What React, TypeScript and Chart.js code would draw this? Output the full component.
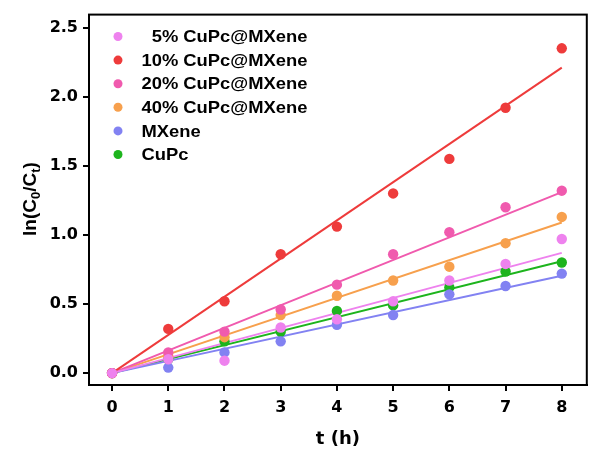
import React, { useEffect, useRef } from "react";
import { Chart, registerables } from "chart.js";

Chart.register(...registerables);

const times = [0, 1, 2, 3, 4, 5, 6, 7, 8];
const seriesLabels = ["5% CuPc@MXene", "10% CuPc@MXene", "20% CuPc@MXene", "40% CuPc@MXene", "MXene", "CuPc"];
const seriesColors = ["#EE82EE", "#EE3B3B", "#F05AAE", "#F7A04D", "#8282F2", "#1DB41D"];
const pct5 = [0, 0.1, 0.09, 0.33, 0.39, 0.52, 0.67, 0.79, 0.97];
const pct10 = [0, 0.32, 0.52, 0.86, 1.06, 1.3, 1.55, 1.92, 2.35];
const pct20 = [0, 0.15, 0.3, 0.46, 0.64, 0.86, 1.02, 1.2, 1.32];
const pct40 = [0, 0.12, 0.26, 0.42, 0.56, 0.67, 0.77, 0.94, 1.13];
const mxene = [0, 0.04, 0.15, 0.23, 0.35, 0.42, 0.57, 0.63, 0.72];
const cupc = [0, 0.1, 0.23, 0.3, 0.45, 0.49, 0.62, 0.735, 0.8];
// linear fit lines through origin: value at t = 0 and t = 8
const fitStartT = 0;
const fitEndT = 8;
const fitEnds = [0.87, 2.21, 1.31, 1.09, 0.705, 0.81];
const xTicks = [0, 1, 2, 3, 4, 5, 6, 7, 8];
const yTicks = [0, 0.5, 1.0, 1.5, 2.0, 2.5];

const allSeries = [pct5, pct10, pct20, pct40, mxene, cupc];
const FONT = "'Liberation Sans', Arial, sans-serif";
const TICKFONT = "'DejaVu Sans', sans-serif";

const framePlugin = {
  id: "frame",
  afterDraw(chart: any) {
    const { ctx, chartArea } = chart;
    ctx.save();
    ctx.strokeStyle = "#000";
    ctx.lineWidth = 2;
    ctx.strokeRect(chartArea.left, chartArea.top, chartArea.right - chartArea.left, chartArea.bottom - chartArea.top);
    ctx.restore();
  },
};

const legendPlugin = {
  id: "customLegend",
  afterDraw(chart: any) {
    const { ctx } = chart;
    ctx.save();
    ctx.font = `bold 17px ${FONT}`;
    ctx.textBaseline = "middle";
    ctx.textAlign = "left";
    seriesLabels.forEach((lab, i) => {
      const y = 36.5 + i * 23.6;
      ctx.beginPath();
      ctx.fillStyle = seriesColors[i];
      ctx.arc(118, y, 4.5, 0, Math.PI * 2);
      ctx.fill();
      ctx.fillStyle = "#000";
      // the first label is indented by one digit width, as in the original
      const indent = i === 0 ? ctx.measureText("1").width : 0;
      ctx.save();
      ctx.translate(141.5, y + 1);
      ctx.scale(1.08, 1);
      ctx.fillText(lab, indent, 0);
      ctx.restore();
    });
    ctx.restore();
  },
};

const yTitlePlugin = {
  id: "yTitle",
  afterDraw(chart: any) {
    const { ctx } = chart;
    const big = `bold 19px ${FONT}`;
    const small = `bold 13px ${FONT}`;
    const parts: [string, boolean][] = [
      ["ln(C", false],
      ["0", true],
      ["/C", false],
      ["t", true],
      [")", false],
    ];
    ctx.save();
    let total = 0;
    parts.forEach(([t, sub]) => {
      ctx.font = sub ? small : big;
      total += ctx.measureText(t).width;
    });
    ctx.translate(29, 199);
    ctx.rotate(-Math.PI / 2);
    ctx.fillStyle = "#000";
    ctx.textBaseline = "alphabetic";
    ctx.textAlign = "left";
    let x = -total / 2;
    parts.forEach(([t, sub]) => {
      ctx.font = sub ? small : big;
      ctx.fillText(t, x, sub ? 11 : 7);
      x += ctx.measureText(t).width;
    });
    ctx.restore();
  },
};

export default function App() {
  const ref = useRef<HTMLCanvasElement>(null);
  useEffect(() => {
    if (!ref.current) return;
    const scatterSets = allSeries.map((s, i) => ({
      type: "scatter" as const,
      label: seriesLabels[i],
      data: times.map((t, k) => ({ x: t, y: s[k] })),
      pointRadius: 5.2,
      pointBackgroundColor: seriesColors[i],
      pointBorderColor: seriesColors[i],
      pointBorderWidth: 0,
      showLine: false,
    }));
    const lineSets = fitEnds.map((e, i) => ({
      type: "line" as const,
      label: "fit " + i,
      data: [
        { x: fitStartT, y: 0 },
        { x: fitEndT, y: e },
      ],
      borderColor: seriesColors[i],
      borderWidth: 2,
      pointRadius: 0,
      fill: false,
    }));
    const chart = new Chart(ref.current, {
      type: "scatter",
      data: { datasets: [...scatterSets, ...lineSets] as any },
      plugins: [framePlugin, legendPlugin, yTitlePlugin],
      options: {
        animation: false,
        responsive: false,
        devicePixelRatio: 1,
        layout: { padding: { left: 0, top: 12, right: 0, bottom: 0 } },
        plugins: { legend: { display: false }, tooltip: { enabled: false } },
        scales: {
          x: {
            type: "linear",
            min: -0.41,
            max: 8.445,
            afterBuildTicks: (scale: any) => {
              scale.ticks = xTicks.map((v) => ({ value: v }));
            },
            afterFit: (scale: any) => {
              scale.height = 65;
            },
            grid: { display: true, drawOnChartArea: false, drawTicks: true, tickLength: 6, color: "#000", lineWidth: 2 },
            border: { display: true, color: "#000", width: 2 },
            ticks: {
              color: "#000",
              padding: 7,
              font: { family: TICKFONT, size: 16, weight: "bold" },
              callback: (v: any) => String(v),
            },
            title: {
              display: true,
              text: "t (h)",
              color: "#000",
              font: { family: TICKFONT, size: 18, weight: "bold" },
              padding: { top: 3, bottom: 0 },
            },
          },
          y: {
            type: "linear",
            min: -0.086,
            max: 2.594,
            afterBuildTicks: (scale: any) => {
              scale.ticks = yTicks.map((v) => ({ value: v }));
            },
            afterFit: (scale: any) => {
              scale.width = 89;
            },
            grid: { display: true, drawOnChartArea: false, drawTicks: true, tickLength: 6, color: "#000", lineWidth: 2 },
            border: { display: true, color: "#000", width: 2 },
            ticks: {
              color: "#000",
              padding: 5,
              font: { family: TICKFONT, size: 16, weight: "bold" },
              callback: (v: any) => Number(v).toFixed(1),
            },
          },
        },
      } as any,
    });
    return () => chart.destroy();
  }, []);
  return (
    <div style={{ position: "fixed", left: 0, top: 0, width: 589, height: 450, overflow: "hidden", background: "#fff" }}>
      <canvas ref={ref} width={592} height={450} style={{ display: "block" }} />
    </div>
  );
}
